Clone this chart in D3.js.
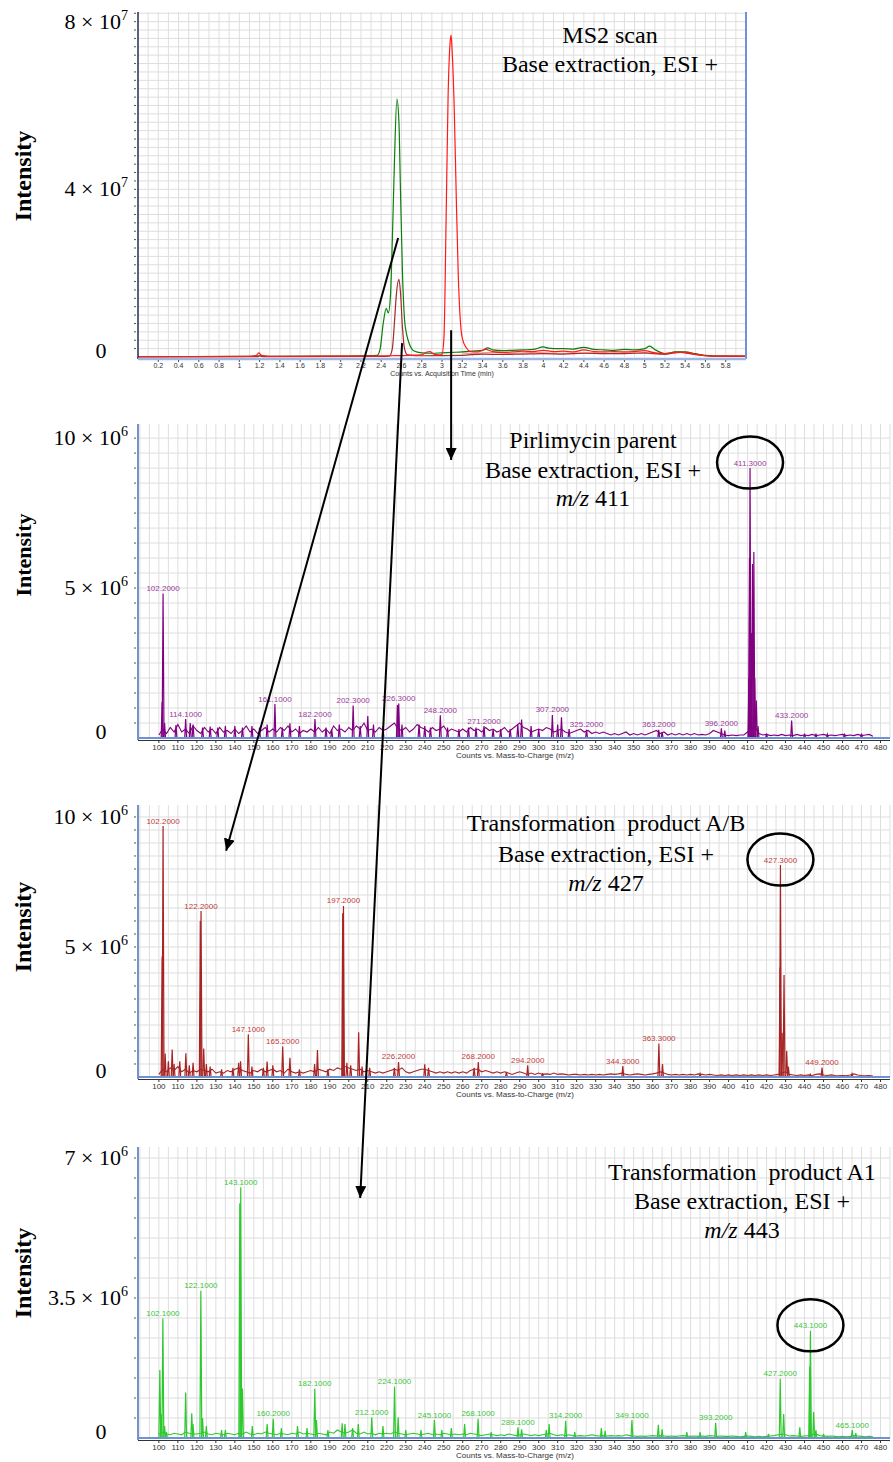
<!DOCTYPE html>
<html>
<head>
<meta charset="utf-8">
<script src="https://cdn.jsdelivr.net/npm/d3@7"></script>
<style>
  body { margin: 0; background: #fff; }
  svg { display: block; }
</style>
</head>
<body>
<div id="chart"></div>
<script>
// ---- MS2 chromatogram traces: [time (min), intensity (x1e7)] ----
const ms2Green = [[0,0.01],[0.6,0.01],[1.1,0.015],[1.2,0.03],[1.3,0.015],[1.8,0.02],[2.2,0.03],[2.36,0.04],[2.39,0.2],[2.42,0.8],[2.45,1.16],[2.47,1.05],[2.49,1.4],[2.51,2.8],[2.53,4.6],[2.555,6.16],[2.575,5.6],[2.59,4.0],[2.61,2.0],[2.63,0.9],[2.65,0.55],[2.68,0.3],[2.72,0.15],[2.8,0.1],[2.9,0.09],[3.0,0.1],[3.1,0.11],[3.2,0.12],[3.3,0.14],[3.4,0.16],[3.45,0.22],[3.5,0.17],[3.6,0.15],[3.7,0.16],[3.8,0.17],[3.9,0.18],[4.0,0.24],[4.05,0.21],[4.1,0.2],[4.2,0.2],[4.3,0.19],[4.4,0.23],[4.5,0.18],[4.6,0.17],[4.7,0.16],[4.8,0.18],[4.9,0.17],[5.0,0.2],[5.05,0.26],[5.1,0.18],[5.2,0.08],[5.25,0.1],[5.3,0.12],[5.4,0.12],[5.5,0.08],[5.6,0.04],[5.7,0.02],[6.0,0.02]];
const ms2Red = [[0,0.01],[1.1,0.015],[1.17,0.04],[1.19,0.1],[1.22,0.04],[1.3,0.015],[2.0,0.02],[2.5,0.03],[2.8,0.05],[2.85,0.12],[2.88,0.13],[2.92,0.07],[2.97,0.05],[3.0,0.06],[3.02,0.5],[3.04,3.2],[3.06,6.2],[3.08,7.5],[3.09,7.68],[3.1,7.3],[3.12,6.0],[3.14,3.9],[3.16,2.0],[3.18,0.9],[3.2,0.45],[3.24,0.22],[3.28,0.13],[3.35,0.12],[3.43,0.18],[3.5,0.13],[3.6,0.11],[3.7,0.12],[3.8,0.14],[3.9,0.13],[4.0,0.16],[4.1,0.13],[4.2,0.14],[4.3,0.12],[4.4,0.17],[4.5,0.13],[4.6,0.12],[4.7,0.13],[4.8,0.12],[4.9,0.13],[5.0,0.15],[5.1,0.1],[5.2,0.08],[5.3,0.11],[5.4,0.11],[5.5,0.07],[5.6,0.03],[5.7,0.02],[6.0,0.02]];
const ms2Brown = [[0,0.005],[1.18,0.01],[1.2,0.03],[1.23,0.01],[2.4,0.015],[2.48,0.02],[2.51,0.2],[2.53,0.8],[2.55,1.5],[2.575,1.85],[2.59,1.55],[2.61,0.7],[2.63,0.2],[2.66,0.05],[2.8,0.03],[3.2,0.04],[3.4,0.07],[3.6,0.06],[3.8,0.07],[4.0,0.08],[4.2,0.07],[4.4,0.09],[4.6,0.08],[4.8,0.08],[5.0,0.1],[5.2,0.07],[5.35,0.11],[5.5,0.06],[5.6,0.03],[5.7,0.02],[6.0,0.015]];
const ms2Pink = [[3.2,0.1],[3.3,0.08],[3.4,0.1],[3.5,0.11],[3.6,0.09],[3.7,0.08],[3.8,0.1],[3.9,0.11],[4.0,0.1],[4.2,0.09],[4.4,0.1],[4.6,0.09],[4.8,0.1],[5.0,0.09],[5.2,0.06],[5.3,0.12],[5.4,0.1],[5.5,0.06],[5.6,0.03]];
const timeTicks = [0.2,0.4,0.6,0.8,1,1.2,1.4,1.6,1.8,2,2.2,2.4,2.6,2.8,3,3.2,3.4,3.6,3.8,4,4.2,4.4,4.6,4.8,5,5.2,5.4,5.6,5.8];
const ms2YLabels = [[8, "8 × 10", "7"], [4, "4 × 10", "7"], [0, "0", ""]];

// ---- Mass spectra: m/z axis ----
const mzTicks = [100,110,120,130,140,150,160,170,180,190,200,210,220,230,240,250,260,270,280,290,300,310,320,330,340,350,360,370,380,390,400,410,420,430,440,450,460,470,480];

// ---- Pirlimycin parent, m/z 411: peaks [m/z, intensity (x1e6)] ----
const parentPeaks = [[101.7,1.2],[102.2,4.82],[103,0.5],[109,0.43],[114.1,0.63],[116.5,0.5],[118,0.45],[123,0.35],[127,0.38],[131,0.35],[135,0.4],[140,0.4],[144,0.35],[149,0.4],[153,0.35],[157,0.45],[161.1,1.13],[165,0.35],[169,0.49],[174,0.4],[182.2,0.63],[188,0.35],[191,0.3],[195,0.45],[202.3,1.08],[206,0.4],[210,0.73],[213,0.45],[218,0.4],[225.6,1.1],[226.3,1.15],[228,0.45],[237,0.45],[240,0.4],[243,0.35],[248.2,0.76],[252,0.35],[258,0.3],[263,0.35],[267,0.35],[271.2,0.4],[276,0.3],[280,0.3],[285,0.3],[289,0.45],[291,0.62],[296,0.4],[300,0.3],[307.2,0.77],[310,0.45],[312,0.69],[316,0.3],[325.2,0.27],[363.2,0.27],[365,0.2],[396.2,0.32],[398,0.25],[410.7,2.0],[411.0,6.0],[411.3,9.0],[412.0,3.5],[412.6,5.8],[413.3,6.2],[413.8,2.0],[414.6,1.25],[415.5,0.4],[420,0.15],[433.2,0.58],[440,0.15],[446,0.15],[452,0.12],[461,0.15],[470,0.15]];
// baseline noise, one value every 2 m/z from 100 to 476
const parentNoise = [
  0.1,0.3,0.15,0.35,0.2,0.45,0.2,0.3,0.15,0.4,
  0.25,0.15,0.35,0.2,0.3,0.15,0.35,0.2,0.25,0.15,
  0.3,0.15,0.25,0.4,0.2,0.3,0.15,0.25,0.35,0.2,
  0.3,0.2,0.35,0.25,0.4,0.2,0.3,0.15,0.25,0.2,
  0.3,0.2,0.35,0.2,0.3,0.15,0.4,0.25,0.3,0.2,
  0.35,0.25,0.4,0.3,0.5,0.25,0.3,0.2,0.35,0.25,
  0.3,0.4,0.5,0.3,0.25,0.35,0.2,0.3,0.45,0.35,
  0.3,0.2,0.35,0.25,0.3,0.4,0.2,0.3,0.25,0.2,
  0.3,0.2,0.35,0.25,0.3,0.2,0.35,0.25,0.3,0.2,
  0.25,0.35,0.2,0.3,0.4,0.5,0.35,0.3,0.2,0.25,
  0.3,0.25,0.35,0.3,0.2,0.25,0.3,0.2,0.15,0.2,
  0.25,0.3,0.2,0.25,0.15,0.2,0.15,0.2,0.15,0.1,
  0.15,0.1,0.15,0.2,0.1,0.15,0.1,0.15,0.1,0.15,
  0.2,0.25,0.15,0.2,0.1,0.15,0.1,0.15,0.1,0.15,
  0.1,0.15,0.1,0.12,0.1,0.15,0.25,0.2,0.15,0.1,
  0.08,0.1,0.08,0.1,0.1,0.2,0.3,0.35,0.15,0.1,
  0.12,0.08,0.1,0.08,0.12,0.08,0.1,0.08,0.12,0.08,
  0.1,0.08,0.12,0.08,0.1,0.12,0.08,0.1,0.08,0.1,
  0.12,0.08,0.1,0.08,0.12,0.08,0.1,0.12,0.06];
const parentLabelMz = [102.2,114.1,161.1,182.2,202.3,226.3,248.2,271.2,307.2,325.2,363.2,396.2,411.3,433.2];
const parentYLabels = [[10, "10 × 10", "6"], [5, "5 × 10", "6"], [0, "0", ""]];

// ---- Transformation product A/B, m/z 427 ----
const abPeaks = [[101.7,4.63],[102.2,9.65],[103.3,0.9],[105,0.6],[107,1.06],[108,0.5],[111,0.6],[114.2,0.91],[116,0.45],[118,0.55],[121.8,6.0],[122.2,6.38],[123.6,1.1],[125,0.5],[127,0.4],[133,0.3],[139,0.35],[142,0.55],[143,0.6],[147.1,1.64],[149,0.4],[155,0.35],[157,0.59],[160,0.45],[165.2,1.17],[169,0.74],[174,0.3],[182,0.5],[183.5,1.04],[189,0.3],[196.8,6.3],[197.2,6.58],[199,0.55],[201,0.45],[205.2,1.72],[207,0.4],[211,0.35],[224,0.35],[226.2,0.58],[240,0.49],[242,0.35],[266,0.35],[268.2,0.58],[283,0.2],[294.2,0.45],[302,0.15],[344.3,0.42],[363.3,1.29],[365.2,0.5],[385,0.12],[427.1,4.2],[427.3,8.15],[428.2,1.7],[429.2,3.92],[430.6,1.01],[431.5,0.4],[443,0.1],[449.2,0.36],[465,0.12]];
const abNoise = [
  0.1,0.3,0.2,0.35,0.25,0.4,0.2,0.3,0.15,0.25,
  0.2,0.3,0.25,0.2,0.3,0.15,0.2,0.15,0.25,0.2,
  0.3,0.35,0.25,0.2,0.15,0.25,0.2,0.3,0.2,0.25,
  0.3,0.2,0.25,0.15,0.3,0.2,0.15,0.2,0.15,0.2,
  0.25,0.2,0.3,0.25,0.2,0.3,0.25,0.35,0.3,0.4,
  0.35,0.3,0.25,0.3,0.2,0.25,0.2,0.15,0.2,0.15,
  0.2,0.25,0.3,0.25,0.35,0.2,0.15,0.2,0.25,0.3,
  0.3,0.25,0.2,0.15,0.2,0.15,0.2,0.15,0.2,0.15,
  0.2,0.15,0.25,0.3,0.3,0.2,0.25,0.2,0.15,0.2,
  0.15,0.2,0.15,0.1,0.15,0.2,0.15,0.1,0.15,0.1,
  0.15,0.1,0.12,0.1,0.15,0.1,0.12,0.1,0.08,0.1,
  0.1,0.08,0.1,0.08,0.1,0.08,0.1,0.08,0.1,0.12,
  0.1,0.12,0.15,0.1,0.08,0.1,0.12,0.1,0.08,0.1,
  0.12,0.15,0.2,0.15,0.1,0.08,0.1,0.08,0.1,0.08,
  0.1,0.08,0.12,0.1,0.08,0.1,0.08,0.06,0.08,0.06,
  0.08,0.06,0.08,0.06,0.08,0.06,0.08,0.06,0.08,0.06,
  0.08,0.06,0.08,0.1,0.15,0.2,0.1,0.08,0.06,0.08,
  0.06,0.08,0.06,0.1,0.12,0.08,0.06,0.08,0.06,0.05,
  0.06,0.05,0.08,0.12,0.08,0.06,0.05,0.06,0.04];
const abLabelMz = [102.2,122.2,147.1,165.2,197.2,226.2,268.2,294.2,344.3,363.3,427.3,449.2];
const abYLabels = [[10, "10 × 10", "6"], [5, "5 × 10", "6"], [0, "0", ""]];

// ---- Transformation product A1, m/z 443 ----
const a1Peaks = [[100.5,1.7],[101.2,0.6],[102.1,2.99],[103,0.3],[104,0.15],[114.1,1.14],[117.3,0.62],[118,0.35],[122.1,3.68],[123,0.5],[125,0.3],[133,0.2],[135,0.2],[142.6,5.87],[143.1,6.27],[144,1.24],[149.2,0.3],[157,0.35],[160.2,0.48],[164.5,0.25],[173,0.3],[178,0.25],[182.1,1.23],[183,0.45],[189,0.2],[196.5,0.37],[198,0.35],[202,0.25],[205,0.35],[212.1,0.52],[218,0.3],[224.1,1.29],[226,0.52],[230,0.2],[238,0.2],[245.1,0.45],[249,0.2],[254,0.25],[261,0.35],[268.1,0.48],[275,0.15],[289.1,0.27],[291,0.22],[304,0.2],[305.5,0.35],[314.2,0.43],[319,0.15],[333,0.25],[335,0.18],[349.1,0.45],[363,0.33],[365,0.22],[378,0.15],[385,0.15],[393.2,0.38],[409,0.15],[421,0.1],[427.2,1.48],[429,0.6],[437.5,0.27],[442.7,1.78],[443.1,2.68],[444.8,0.65],[446,0.2],[450,0.1],[465.1,0.2],[467,0.12]];
const a1Noise = [
  0.1,0.15,0.1,0.08,0.12,0.1,0.08,0.15,0.12,0.1,
  0.1,0.12,0.15,0.1,0.08,0.12,0.1,0.08,0.12,0.1,
  0.08,0.12,0.1,0.15,0.1,0.08,0.12,0.1,0.15,0.12,
  0.1,0.08,0.12,0.1,0.08,0.12,0.1,0.15,0.1,0.12,
  0.1,0.08,0.12,0.1,0.08,0.15,0.12,0.2,0.15,0.12,
  0.15,0.2,0.12,0.1,0.15,0.1,0.12,0.08,0.12,0.1,
  0.12,0.1,0.15,0.12,0.1,0.08,0.1,0.12,0.1,0.08,
  0.1,0.12,0.08,0.1,0.08,0.12,0.1,0.08,0.1,0.08,
  0.1,0.08,0.12,0.1,0.08,0.06,0.08,0.1,0.08,0.06,
  0.08,0.06,0.1,0.08,0.06,0.08,0.1,0.08,0.06,0.08,
  0.06,0.08,0.1,0.12,0.08,0.06,0.08,0.06,0.08,0.06,
  0.05,0.06,0.05,0.06,0.08,0.06,0.05,0.06,0.05,0.06,
  0.05,0.06,0.05,0.08,0.06,0.05,0.04,0.05,0.04,0.05,
  0.06,0.05,0.06,0.05,0.04,0.05,0.04,0.05,0.06,0.05,
  0.04,0.05,0.04,0.05,0.04,0.06,0.05,0.04,0.05,0.04,
  0.04,0.05,0.04,0.03,0.04,0.05,0.04,0.03,0.04,0.03,
  0.04,0.05,0.06,0.08,0.1,0.08,0.05,0.06,0.05,0.04,
  0.05,0.06,0.08,0.1,0.06,0.05,0.04,0.05,0.04,0.03,
  0.04,0.03,0.04,0.06,0.05,0.04,0.03,0.04,0.03];
const a1LabelMz = [102.1,122.1,143.1,160.2,182.1,212.1,224.1,245.1,268.1,289.1,314.2,349.1,393.2,427.2,443.1,465.1];
const a1YLabels = [[7, "7 × 10", "6"], [3.5, "3.5 × 10", "6"], [0, "0", ""]];

const W = 893, H = 1462;
const plotLeft = 138;
const serif = "'Liberation Serif', 'Times New Roman', serif";
const sans = "'Liberation Sans', Arial, sans-serif";

const svg = d3.select("#chart").append("svg")
    .attr("width", W)
    .attr("height", H)
    .style("background", "#fff");

const defs = svg.append("defs");
defs.append("marker")
    .attr("id", "head")
    .attr("viewBox", "0 0 12 11")
    .attr("refX", 12)
    .attr("refY", 5.5)
    .attr("markerWidth", 12)
    .attr("markerHeight", 11)
    .attr("markerUnits", "userSpaceOnUse")
    .attr("orient", "auto")
    .append("path")
    .attr("d", "M0,0L12,5.5L0,11Z")
    .attr("fill", "#000");

// y-axis labels (big serif) + rotated "Intensity"
function drawYLabels(g, y, labels, intensityY, intensitySize) {
    labels.forEach(([v, base, exp]) => {
        if (v === 0) {
            g.append("text")
                .attr("x", 101).attr("y", y(0) + 1)
                .attr("text-anchor", "middle")
                .style("font-family", serif).style("font-size", "22px")
                .text(base);
            return;
        }
        const t = g.append("text")
            .attr("x", 128).attr("y", y(v) + 7)
            .attr("text-anchor", "end")
            .style("font-family", serif).style("font-size", "22px")
            .style("white-space", "pre");
        t.append("tspan").text(base);
        t.append("tspan").attr("dy", -9).style("font-size", "14px").text(exp);
    });
    g.append("text")
        .attr("transform", `translate(31,${intensityY}) rotate(-90)`)
        .attr("text-anchor", "middle")
        .style("font-family", serif).style("font-size", intensitySize + "px")
        .style("font-weight", "bold")
        .text("Intensity");
}

function drawGrid(g, x, y, xs, ys, left, right, top, base) {
    g.append("g").selectAll("line").data(xs).join("line")
        .attr("x1", d => x(d)).attr("x2", d => x(d))
        .attr("y1", top).attr("y2", base)
        .attr("stroke", "#dedede").attr("stroke-width", 1);
    g.append("g").selectAll("line").data(ys).join("line")
        .attr("x1", left).attr("x2", right)
        .attr("y1", d => y(d)).attr("y2", d => y(d))
        .attr("stroke", "#dedede").attr("stroke-width", 1);
    // little minor ticks left of the axis
    g.append("g").selectAll("line").data(ys).join("line")
        .attr("x1", left - 4).attr("x2", left - 2)
        .attr("y1", d => y(d)).attr("y2", d => y(d))
        .attr("stroke", "#555").attr("stroke-width", 1);
}

function drawTitle(g, lines, cx, ys, mzText) {
    lines.forEach((s, i) => {
        g.append("text")
            .attr("x", cx).attr("y", ys[i])
            .attr("text-anchor", "middle")
            .style("font-family", serif).style("font-size", "24px")
            .style("white-space", "pre")
            .text(s);
    });
    if (mzText) {
        const t = g.append("text")
            .attr("x", cx).attr("y", ys[lines.length])
            .attr("text-anchor", "middle")
            .style("font-family", serif).style("font-size", "24px");
        t.append("tspan").style("font-style", "italic").text("m/z");
        t.append("tspan").text(" " + mzText);
    }
}

// ---------------- Panel 1: MS2 chromatogram ----------------
const ms2 = { left: plotLeft, right: 746, top: 12, base: 357 };
const xT = d3.scaleLinear().domain([0, 6.0]).range([ms2.left, ms2.right]);
const yT = d3.scaleLinear().domain([0, 8.23]).range([ms2.base, ms2.top]);
{
    const g = svg.append("g");
    drawGrid(g, xT, yT,
        d3.range(1, 60).map(i => i / 10),
        d3.range(1, 42).map(i => i * 0.2),
        ms2.left, ms2.right, ms2.top, ms2.base);

    const line = d3.line().x(d => xT(d[0])).y(d => yT(d[1])).curve(d3.curveMonotoneX);
    [[ms2Pink, "#f09090"], [ms2Green, "#0a800a"], [ms2Brown, "#a52a2a"], [ms2Red, "#ff1a1a"]]
        .forEach(([data, col]) => {
            g.append("path").datum(data).attr("d", line)
                .attr("fill", "none").attr("stroke", col).attr("stroke-width", 1.2);
        });

    // axes
    g.append("line").attr("x1", ms2.left).attr("x2", ms2.left)
        .attr("y1", ms2.top).attr("y2", ms2.base + 2)
        .attr("stroke", "#1f2d4d").attr("stroke-width", 1.5);
    g.append("line").attr("x1", ms2.right).attr("x2", ms2.right)
        .attr("y1", ms2.top).attr("y2", ms2.base + 2)
        .attr("stroke", "#6d93d6").attr("stroke-width", 2);
    g.append("line").attr("x1", ms2.left).attr("x2", ms2.right)
        .attr("y1", ms2.base + 2).attr("y2", ms2.base + 2)
        .attr("stroke", "#9db6e2").attr("stroke-width", 2.5);
    g.append("g").selectAll("line").data(timeTicks).join("line")
        .attr("x1", d => xT(d)).attr("x2", d => xT(d))
        .attr("y1", ms2.base + 3).attr("y2", ms2.base + 5)
        .attr("stroke", "#555");
    g.append("g").selectAll("text").data(timeTicks).join("text")
        .attr("x", d => xT(d)).attr("y", ms2.base + 11)
        .attr("text-anchor", "middle")
        .style("font-family", sans).style("font-size", "7px").attr("fill", "#333")
        .text(d => String(d));
    g.append("text")
        .attr("x", 442).attr("y", ms2.base + 19)
        .attr("text-anchor", "middle")
        .style("font-family", sans).style("font-size", "7px").attr("fill", "#333")
        .text("Counts vs. Acquisition Time (min)");

    drawYLabels(g, yT, ms2YLabels, 176, 24);
    drawTitle(g, ["MS2 scan", "Base extraction, ESI +"], 610, [43, 72], null);
}

// ---------------- Panels 2-4: mass spectra ----------------
const specRight = 890;
const spectra = [
    { peaks: parentPeaks, noise: parentNoise, labels: parentLabelMz, circled: 411.3, yLabels: parentYLabels,
      top: 424, base: 738, yMax: 10.47, trace: "#800080", labelColor: "#9b3b9b",
      title: ["Pirlimycin parent", "Base extraction, ESI +"], mz: "411", titleX: 593, titleY: [448, 478, 506],
      intensityY: 555, intensitySize: 22 },
    { peaks: abPeaks, noise: abNoise, labels: abLabelMz, circled: 427.3, yLabels: abYLabels,
      top: 805, base: 1077, yMax: 10.46, trace: "#a82424", labelColor: "#c0403c",
      title: ["Transformation  product A/B", "Base extraction, ESI +"], mz: "427", titleX: 606, titleY: [831, 862, 891],
      intensityY: 927, intensitySize: 24 },
    { peaks: a1Peaks, noise: a1Noise, labels: a1LabelMz, circled: 443.1, yLabels: a1YLabels,
      top: 1147, base: 1438, yMax: 7.275, trace: "#2fc82f", labelColor: "#3cc43c",
      title: ["Transformation  product A1", "Base extraction, ESI +"], mz: "443", titleX: 742, titleY: [1180, 1209, 1238],
      intensityY: 1273, intensitySize: 24 }
];

spectra.forEach(p => {
    const x = d3.scaleLinear().domain([89, 485]).range([plotLeft, specRight]);
    const y = d3.scaleLinear().domain([0, p.yMax]).range([p.base, p.top]);
    p.x = x; p.y = y;
    const g = svg.append("g");

    drawGrid(g, x, y,
        d3.range(90, 486, 5),
        d3.range(1, Math.floor(p.yMax / 0.5) + 1).map(i => i * 0.5),
        plotLeft, specRight, p.top, p.base);

    // noise floor
    const noisePts = p.noise.map((v, i) => [100 + 2 * i, v]);
    g.append("path").datum(noisePts)
        .attr("d", d3.line().x(d => x(d[0])).y(d => y(d[1])))
        .attr("fill", "none").attr("stroke", p.trace).attr("stroke-width", 1.1);

    // peaks as narrow profile spikes
    g.append("g").selectAll("path").data(p.peaks).join("path")
        .attr("d", d => `M${x(d[0] - 0.5)},${y(0)}L${x(d[0])},${y(d[1])}L${x(d[0] + 0.5)},${y(0)}`)
        .attr("fill", "none").attr("stroke", p.trace).attr("stroke-width", 1.2)
        .attr("stroke-linejoin", "miter");

    // axes
    g.append("line").attr("x1", plotLeft).attr("x2", plotLeft)
        .attr("y1", p.top).attr("y2", p.base + 2)
        .attr("stroke", "#4a6fb5").attr("stroke-width", 1.5);
    g.append("line").attr("x1", plotLeft).attr("x2", specRight)
        .attr("y1", p.base).attr("y2", p.base)
        .attr("stroke", "#6d93d6").attr("stroke-width", 2);
    g.append("line").attr("x1", plotLeft).attr("x2", specRight)
        .attr("y1", p.base + 2.5).attr("y2", p.base + 2.5)
        .attr("stroke", "#333").attr("stroke-width", 1);
    g.append("g").selectAll("line").data(mzTicks).join("line")
        .attr("x1", d => x(d)).attr("x2", d => x(d))
        .attr("y1", p.base + 2.5).attr("y2", p.base + 5)
        .attr("stroke", "#333");
    g.append("g").selectAll("text").data(mzTicks).join("text")
        .attr("x", d => x(d)).attr("y", p.base + 12)
        .attr("text-anchor", "middle")
        .style("font-family", sans).style("font-size", "8px").attr("fill", "#333")
        .text(d => d);
    g.append("text")
        .attr("x", 515).attr("y", p.base + 20)
        .attr("text-anchor", "middle")
        .style("font-family", sans).style("font-size", "8px").attr("fill", "#333")
        .text("Counts vs. Mass-to-Charge (m/z)");

    // peak labels
    const peakAt = mz => p.peaks.find(d => d[0] === mz);
    g.append("g").selectAll("text").data(p.labels).join("text")
        .attr("x", d => x(d)).attr("y", d => y(peakAt(d)[1]) - 2.5)
        .attr("text-anchor", "middle")
        .style("font-family", sans).style("font-size", "8px").attr("fill", p.labelColor)
        .text(d => d3.format(".4f")(d));

    // circled precursor
    const c = peakAt(p.circled);
    g.append("ellipse")
        .attr("cx", x(c[0])).attr("cy", y(c[1]) - 5.5)
        .attr("rx", 33).attr("ry", 26)
        .attr("fill", "none").attr("stroke", "#000").attr("stroke-width", 2.5);

    drawYLabels(g, y, p.yLabels, p.intensityY, p.intensitySize);
    drawTitle(g, p.title, p.titleX, p.titleY, p.mz);
});

// ---------------- Arrows linking chromatogram peaks to spectra ----------------
const arrows = [
    { from: [2.567, 2.84], to: { panel: 1, mz: 135.4, v: 8.7 } },
    { from: [2.606, 0.33], to: { panel: 2, mz: 206, v: 6.0 } },
    { from: [3.09, 0.64], to: { panel: 0, mz: 253.9, v: 9.27 } }
];
arrows.forEach(a => {
    const p = spectra[a.to.panel];
    const x1 = xT(a.from[0]), y1 = yT(a.from[1]);
    const x2 = p.x(a.to.mz), y2 = p.y(a.to.v);
    svg.append("line")
        .attr("x1", x1).attr("y1", y1).attr("x2", x2).attr("y2", y2)
        .attr("stroke", "#000").attr("stroke-width", 2)
        .attr("marker-end", "url(#head)");
});
</script>
</body>
</html>
